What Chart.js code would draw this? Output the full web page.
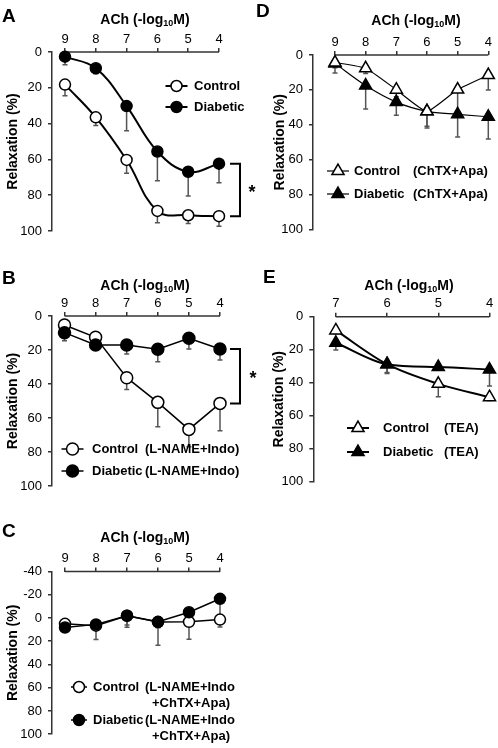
<!DOCTYPE html>
<html>
<head>
<meta charset="utf-8">
<script src="https://cdn.jsdelivr.net/npm/chart.js@4.4.0/dist/chart.umd.min.js"></script>
<style>
  body { margin: 0; background: #fff; width: 498px; height: 748px; position: relative; overflow: hidden; }
  canvas { position: absolute; }
</style>
</head>
<body>
<canvas id="panel-a"></canvas>
<canvas id="panel-b"></canvas>
<canvas id="panel-c"></canvas>
<canvas id="panel-d"></canvas>
<canvas id="panel-e"></canvas>
<script>
// ACh doses (-log10 M) and axis ticks
const dosesAll = [9, 8, 7, 6, 5, 4];
const dosesTea = [7, 6, 5, 4];
const relaxTicks = [0, 20, 40, 60, 80, 100];
const relaxTicksC = [-40, -20, 0, 20, 40, 60, 80, 100];

// Panel A: no inhibitors
const controlA = [18.2, 36.5, 60.3, 88.8, 91.2, 91.7];
const controlAErr = [6.3, 4.5, 7.5, 6.6, 4.6, 5.6];
const diabeticA = [2.6, 9.1, 30.2, 55.6, 66.9, 62.4];
const diabeticAErr = [4.5, 3.0, 13.8, 16.3, 13.5, 10.7];

// Panel B: L-NAME + Indo
const controlB = [5.3, 12.5, 36.3, 50.8, 66.7, 51.4];
const controlBErr = [2, 3, 7, 14.3, 10.2, 16.1];
const diabeticB = [9.8, 17, 17, 19.6, 13.1, 19.4];
const diabeticBErr = [4.7, 3, 5.4, 7.3, 6.3, 6.5];

// Panel C: L-NAME + Indo + ChTX + Apa
const controlC = [5, 6.6, -2, 3.5, 3.3, 1.4];
const controlCErr = [2, 12, 10, 20, 15, 6.3];
const diabeticC = [8.2, 5.5, -1.9, 3.3, -4.9, -16.5];
const diabeticCErr = [2, 3, 8, 5, 4, 13.8];

// Panel D: ChTX + Apa
const controlD = [4.3, 7.6, 19.9, 32.3, 19.8, 11.5];
const controlDErr = [3, 3, 4, 8.5, 14, 8.5];
const diabeticD = [4.8, 17.5, 27, 32.3, 34, 35.4];
const diabeticDErr = [5.5, 13.5, 7.5, 9.5, 13, 12.7];

// Panel E: TEA
const controlE = [8.3, 28.8, 40.7, 48.8];
const controlEErr = [2, 5, 7.8, 2];
const diabeticE = [15.8, 28.8, 30.5, 32];
const diabeticEErr = [4.4, 5.6, 2, 10];

const groupNames = ['Control', 'Diabetic'];
const xTitle = ['ACh (-log', '10', 'M)'];
const yTitle = 'Relaxation (%)';

const FONT = '"Liberation Sans", Arial, Helvetica, sans-serif';
const AXIS = '#333';

/**
 * Draws error bars, the top axis line, panel letter, title, legend and bracket.
 */
const decorations = {
    id: 'decorations',
    beforeDatasetsDraw(chart, args, o) {
        const ctx = chart.ctx;
        const ys = chart.scales.y;
        const xs = chart.scales.x;
        ctx.save();
        // top axis line only spans the first to last dose
        ctx.strokeStyle = AXIS;
        ctx.lineWidth = 1.5;
        ctx.beginPath();
        ctx.moveTo(xs.getPixelForValue(o.doses[0]), chart.chartArea.top);
        ctx.lineTo(xs.getPixelForValue(o.doses[o.doses.length - 1]), chart.chartArea.top);
        ctx.stroke();
        // error bars (one-sided, downward)
        ctx.strokeStyle = '#555';
        ctx.lineWidth = 1.5;
        chart.data.datasets.forEach((ds, di) => {
            const meta = chart.getDatasetMeta(di);
            ds.errors.forEach((e, i) => {
                const pt = meta.data[i];
                const y2 = ys.getPixelForValue(ds.data[i].y + e);
                ctx.beginPath();
                ctx.moveTo(pt.x, pt.y);
                ctx.lineTo(pt.x, y2);
                ctx.moveTo(pt.x - 2.5, y2);
                ctx.lineTo(pt.x + 2.5, y2);
                ctx.stroke();
            });
        });
        ctx.restore();
    },
    afterDraw(chart, args, o) {
        const ctx = chart.ctx;
        const [bx, by] = o.box;
        ctx.save();
        ctx.fillStyle = '#000';
        ctx.textBaseline = 'middle';
        ctx.textAlign = 'left';

        // panel letter
        ctx.font = 'bold 19px ' + FONT;
        ctx.fillText(o.letter, o.letterPos[0] - bx, o.letterPos[1] - by);

        // x title with subscript
        const parts = [[xTitle[0], 'bold 14px ', 0], [xTitle[1], 'bold 9px ', 4], [xTitle[2], 'bold 14px ', 0]];
        let w = 0;
        parts.forEach(p => { ctx.font = p[1] + FONT; w += ctx.measureText(p[0]).width; });
        let tx = o.titlePos[0] - bx - w / 2;
        parts.forEach(p => {
            ctx.font = p[1] + FONT;
            ctx.fillText(p[0], tx, o.titlePos[1] - by + p[2]);
            tx += ctx.measureText(p[0]).width;
        });

        // legend
        const lg = o.legend;
        const half = lg.half || 11;
        ctx.font = 'bold 13px ' + FONT;
        chart.data.datasets.forEach((ds, i) => {
            const y = lg.rows[i] - by;
            const mx = lg.marker - bx;
            ctx.strokeStyle = '#000';
            ctx.lineWidth = ds.borderWidth;
            ctx.beginPath();
            ctx.moveTo(mx - half, y);
            ctx.lineTo(mx + half, y);
            ctx.stroke();
            ctx.fillStyle = ds.pointBackgroundColor;
            ctx.lineWidth = 1.5;
            Chart.helpers.drawPoint(ctx, {pointStyle: ds.pointStyle, rotation: 0, radius: ds.pointRadius, borderWidth: 1.5}, mx, y);
            ctx.fillStyle = '#000';
            ctx.fillText(ds.label, lg.text - bx, y);
            if (lg.treatment) {
                ctx.fillText(lg.treatment, lg.col2 - bx, y);
            }
            if (lg.treatment2) {
                ctx.fillText(lg.treatment2, lg.col3 - bx, y + lg.wrap);
            }
        });

        // significance bracket between last points
        if (o.bracket) {
            const ys = chart.scales.y;
            const sets = chart.data.datasets;
            const n = sets[0].data.length - 1;
            const y1 = ys.getPixelForValue(sets[0].data[n].y);
            const y2 = ys.getPixelForValue(sets[1].data[n].y);
            const x = o.bracket.x - bx;
            ctx.strokeStyle = '#000';
            ctx.lineWidth = 2;
            ctx.beginPath();
            ctx.moveTo(x - 10, y1);
            ctx.lineTo(x, y1);
            ctx.lineTo(x, y2);
            ctx.lineTo(x - 10, y2);
            ctx.stroke();
            ctx.font = 'bold 18px ' + FONT;
            ctx.textAlign = 'center';
            ctx.fillText('*', o.bracket.star - bx, (y1 + y2) / 2 + 3);
        }
        ctx.restore();
    }
};

function makeDataset(label, doses, values, errors, filled, style, radius, lineWidth, curve, order) {
    return {
        label: label,
        data: values.map((v, i) => ({x: doses[i], y: v})),
        errors: errors,
        borderColor: '#000',
        borderWidth: lineWidth,
        backgroundColor: filled ? '#000' : '#fff',
        pointBackgroundColor: filled ? '#000' : '#fff',
        pointBorderColor: '#000',
        pointBorderWidth: 1.5,
        pointStyle: style,
        pointRadius: radius,
        tension: curve === 'monotone' ? 0.4 : curve,
        cubicInterpolationMode: curve === 'monotone' ? 'monotone' : 'default',
        clip: false,
        order: order
    };
}

function makePanel(p) {
    const [left, top, width, height] = p.box;
    const canvas = document.getElementById(p.id);
    canvas.width = width;
    canvas.height = height;
    canvas.style.left = left + 'px';
    canvas.style.top = top + 'px';

    const first = p.doses[0];
    const last = p.doses[p.doses.length - 1];
    const ppu = (p.xLastPx - p.xFirstPx) / (first - last);
    const xMax = first + (p.xFirstPx - p.area.left) / ppu;

    new Chart(canvas, {
        type: 'line',
        data: {datasets: p.datasets},
        plugins: [decorations],
        options: {
            responsive: false,
            animation: false,
            events: [],
            devicePixelRatio: 1,
            layout: {
                padding: {left: 0, top: 0, right: width - (p.xLastPx - left), bottom: top + height - p.area.bottom}
            },
            scales: {
                x: {
                    type: 'linear',
                    position: 'top',
                    reverse: true,
                    min: last,
                    max: xMax,
                    afterBuildTicks: s => { s.ticks = p.doses.map(v => ({value: v})); },
                    afterFit: s => { s.height = p.area.top - top; },
                    border: {display: false},
                    grid: {drawOnChartArea: false, drawTicks: true, tickLength: 4, color: AXIS, lineWidth: 1.5},
                    ticks: {color: '#000', padding: 1, autoSkip: false, maxRotation: 0, font: {family: FONT, size: 13}}
                },
                y: {
                    type: 'linear',
                    reverse: true,
                    min: p.yTicks[0],
                    max: p.yTicks[p.yTicks.length - 1],
                    afterBuildTicks: s => { s.ticks = p.yTicks.map(v => ({value: v})); },
                    afterFit: s => { s.width = p.area.left - left; },
                    border: {display: true, color: AXIS, width: 1.5},
                    grid: {drawOnChartArea: false, drawTicks: true, tickLength: 4, color: AXIS, lineWidth: 1.5},
                    ticks: {color: '#000', padding: 6, font: {family: FONT, size: 13}},
                    title: {
                        display: true, text: yTitle, color: '#000',
                        font: {family: FONT, size: 14, weight: 'bold'},
                        padding: {top: p.yTitleX - left - 8.4, bottom: 0}
                    }
                }
            },
            plugins: {
                legend: {display: false},
                tooltip: {enabled: false},
                decorations: {
                    box: p.box, doses: p.doses, letter: p.letter, letterPos: p.letterPos,
                    titlePos: p.titlePos, legend: p.legend, bracket: p.bracket
                }
            }
        }
    });
}

const panels = [
    {
        id: 'panel-a', letter: 'A', box: [0, 0, 265, 245], letterPos: [2, 17], titlePos: [145, 20],
        area: {left: 52, top: 52, bottom: 231}, xFirstPx: 65, xLastPx: 219, doses: dosesAll,
        yTicks: relaxTicks, yTitleX: 13,
        legend: {marker: 176.5, text: 194, rows: [86, 107]},
        bracket: {x: 240, star: 252},
        datasets: [
            makeDataset(groupNames[0], dosesAll, controlA, controlAErr, false, 'circle', 5.5, 2, 0.4, 1),
            makeDataset(groupNames[1], dosesAll, diabeticA, diabeticAErr, true, 'circle', 5.5, 2, 0.4, 0)
        ]
    },
    {
        id: 'panel-b', letter: 'B', box: [0, 250, 265, 250], letterPos: [2, 279], titlePos: [145, 286],
        area: {left: 52, top: 316, bottom: 486}, xFirstPx: 64.5, xLastPx: 220, doses: dosesAll,
        yTicks: relaxTicks, yTitleX: 13,
        legend: {marker: 72.5, text: 92, col2: 145, treatment: '(L-NAME+Indo)', rows: [449, 471]},
        bracket: {x: 240, star: 253},
        datasets: [
            makeDataset(groupNames[0], dosesAll, controlB, controlBErr, false, 'circle', 6, 1.5, 0, 1),
            makeDataset(groupNames[1], dosesAll, diabeticB, diabeticBErr, true, 'circle', 6, 1.5, 0, 0)
        ]
    },
    {
        id: 'panel-c', letter: 'C', box: [0, 500, 265, 248], letterPos: [2, 532], titlePos: [145, 538],
        area: {left: 52, top: 571.5, bottom: 741.5}, xFirstPx: 65, xLastPx: 220, doses: dosesAll,
        yTicks: relaxTicksC, yTitleX: 13,
        legend: {marker: 79, half: 8, text: 93, col2: 145, treatment: '(L-NAME+Indo', col3: 152,
                 treatment2: '+ChTX+Apa)', wrap: 16.5, rows: [687, 720]},
        datasets: [
            makeDataset(groupNames[0], dosesAll, controlC, controlCErr, false, 'circle', 5.5, 1.5, 0, 1),
            makeDataset(groupNames[1], dosesAll, diabeticC, diabeticCErr, true, 'circle', 5.5, 1.5, 0, 0)
        ]
    },
    {
        id: 'panel-d', letter: 'D', box: [250, 0, 248, 245], letterPos: [256, 12], titlePos: [416, 21],
        area: {left: 313, top: 55, bottom: 229.5}, xFirstPx: 335, xLastPx: 488.3, doses: dosesAll,
        yTicks: relaxTicks, yTitleX: 280.5,
        legend: {marker: 338, text: 354, col2: 413, treatment: '(ChTX+Apa)', rows: [171, 194]},
        datasets: [
            makeDataset(groupNames[0], dosesAll, controlD, controlDErr, false, 'triangle', 7, 1.2, 0.15, 0),
            makeDataset(groupNames[1], dosesAll, diabeticD, diabeticDErr, true, 'triangle', 7, 1.2, 'monotone', 1)
        ]
    },
    {
        id: 'panel-e', letter: 'E', box: [250, 250, 248, 250], letterPos: [263, 278], titlePos: [409, 286],
        area: {left: 313.3, top: 316.7, bottom: 481.7}, xFirstPx: 336, xLastPx: 490.7, doses: dosesTea,
        yTicks: relaxTicks, yTitleX: 279,
        legend: {marker: 358, text: 383, col2: 444, treatment: '(TEA)', rows: [428, 452]},
        datasets: [
            makeDataset(groupNames[0], dosesTea, controlE, controlEErr, false, 'triangle', 7, 2, 'monotone', 1),
            makeDataset(groupNames[1], dosesTea, diabeticE, diabeticEErr, true, 'triangle', 7, 2, 'monotone', 0)
        ]
    }
];

document.addEventListener('DOMContentLoaded', function() {
    panels.forEach(makePanel);
});
</script>
</body>
</html>
